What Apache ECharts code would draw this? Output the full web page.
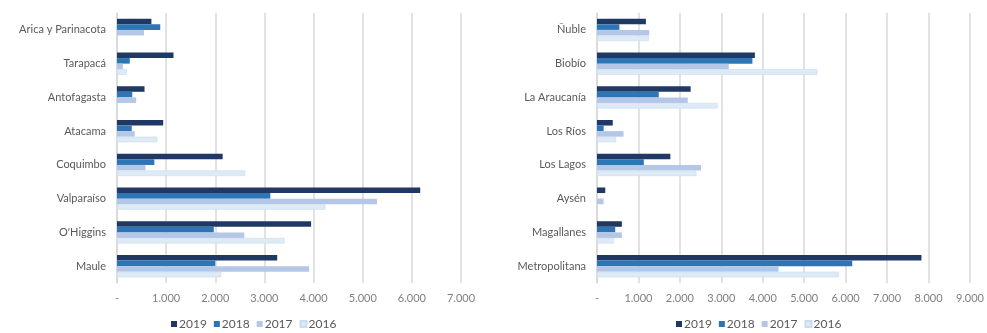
<!DOCTYPE html>
<html>
<head>
<meta charset="utf-8">
<script src="https://cdn.jsdelivr.net/npm/echarts@6/dist/echarts.min.js"></script>
<style>
  html, body { margin: 0; padding: 0; background: #fff; }
  #chart { width: 987px; height: 333px; }
</style>
</head>
<body>
<div id="chart"></div>
<script>
// Regions, north to south, split in two panels
const regionsNorth = ['Arica y Parinacota', 'Tarapacá', 'Antofagasta', 'Atacama', 'Coquimbo', 'Valparaíso', "O'Higgins", 'Maule'];
const regionsSouth = ['Ñuble', 'Biobío', 'La Araucanía', 'Los Ríos', 'Los Lagos', 'Aysén', 'Magallanes', 'Metropolitana'];

const years = ['2019', '2018', '2017', '2016'];

// Values per year, northern panel
const north2019 = [700, 1150, 560, 940, 2150, 6170, 3950, 3260];
const north2018 = [880, 260, 310, 300, 760, 3120, 1970, 2000];
const north2017 = [550, 120, 390, 360, 580, 5290, 2590, 3910];
const north2016 = [0, 200, 0, 820, 2610, 4240, 3410, 2120];

// Values per year, southern panel
const south2019 = [1180, 3810, 2260, 380, 1770, 200, 600, 7830];
const south2018 = [540, 3750, 1490, 160, 1130, 0, 440, 6160];
const south2017 = [1260, 3180, 2190, 640, 2510, 160, 600, 4380];
const south2016 = [1250, 5320, 2920, 460, 2400, 0, 410, 5840];

const colors = ['#203864', '#2E75B6', '#B4C7E7', '#DEEBF7'];
const borders = ['#203864', '#2E75B6', '#B4C7E7', '#CBDCF0'];

const northData = [north2019, north2018, north2017, north2016];
const southData = [south2019, south2018, south2017, south2016];

const font = 'Lato, "Open Sans", sans-serif';

function tickFmt(v) {
  if (v === 0) return '-';
  return String(v).replace(/\B(?=(\d{3})+(?!\d))/g, '.');
}

function xAxis(gridIndex, max) {
  return {
    type: 'value', gridIndex, min: 0, max, interval: 1000,
    axisLine: { show: false }, axisTick: { show: false },
    splitLine: { lineStyle: { color: '#d9d9d9', width: 1.5 } },
    axisLabel: { formatter: tickFmt, color: '#808080', fontFamily: font, fontSize: 11, margin: 10 }
  };
}

function yAxis(gridIndex, cats) {
  return {
    type: 'category', gridIndex, data: cats, inverse: true,
    axisLine: { show: true, lineStyle: { color: '#d9d9d9', width: 1.5 } },
    axisTick: { show: false },
    axisLabel: { color: '#595959', fontFamily: font, fontSize: 11, margin: 11 }
  };
}

function barSeries(dataSets, axisIndex) {
  return years.map((y, i) => ({
    name: y, type: 'bar', xAxisIndex: axisIndex, yAxisIndex: axisIndex,
    data: dataSets[i],
    barGap: '0%', barCategoryGap: '34%',
    itemStyle: { color: colors[i], borderColor: borders[i], borderWidth: i === 3 ? 0.6 : 0 },
    emphasis: { disabled: true }
  }));
}

function legend(left) {
  return {
    data: years, left, top: 316, padding: 2,
    itemWidth: 6, itemHeight: 6, itemGap: 7, icon: 'rect',
    textStyle: { color: '#595959', fontFamily: font, fontSize: 12, padding: [0, 0, 0, -3] }
  };
}

const chart = echarts.init(document.getElementById('chart'));
chart.setOption({
  animation: false,
  color: colors,
  grid: [
    { left: 117, top: 13, width: 344, height: 270 },
    { left: 597, top: 13, width: 378, height: 270 }
  ],
  xAxis: [xAxis(0, 7000), xAxis(1, 9000)],
  yAxis: [yAxis(0, regionsNorth), yAxis(1, regionsSouth)],
  legend: [legend(169), legend(674)],
  series: [...barSeries(northData, 0), ...barSeries(southData, 1)]
});
</script>
</body>
</html>
